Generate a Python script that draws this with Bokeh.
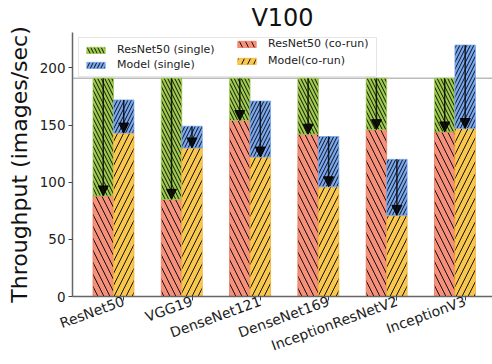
import numpy as np
from bokeh.plotting import figure
from bokeh.models import (ColumnDataSource, Arrow, NormalHead, Span, FixedTicker,
                          Legend, LegendItem, Range1d)
from bokeh.embed import file_html
from bokeh.resources import INLINE

# Throughput (images/sec) on a V100: ResNet50 co-located with each model
models = ["ResNet50", "VGG19", "DenseNet121", "DenseNet169", "InceptionResNetV2", "InceptionV3"]
resnet_single = [191, 191, 191, 191, 191, 191]
resnet_corun = [88, 85, 154, 142, 146, 144]
model_single = [172, 149, 171, 140, 120, 220]
model_corun = [143, 130, 122, 96, 71, 147]

FONT = "DejaVu Sans"
BAR_W = 0.3
GREEN, RED, BLUE, YELLOW = "#9fcb4f", "#f5907a", "#7aa8ef", "#f8c74f"

x = np.arange(len(models))
src = ColumnDataSource(dict(
    xl=x - BAR_W, xr=x.astype(float),
    rs=resnet_single, rc=resnet_corun, ms=model_single, mc=model_corun,
))

p = figure(width=492, height=364, output_backend="svg", toolbar_location=None,
           x_range=Range1d(-0.75, 5.40), y_range=Range1d(0, 231),
           min_border_left=72, min_border_right=0, min_border_bottom=66,
           min_border_top=0)
p.title.text = "V100"
p.title.align = "center"
p.title.text_font = FONT
p.title.text_font_size = "24px"
p.title.text_font_style = "normal"
p.title.text_color = "#111111"
p.title.standoff = 2
p.outline_line_color = None
p.xgrid.visible = False
p.ygrid.visible = False
p.background_fill_color = "white"
p.border_fill_color = "white"

# reference line at ResNet50's standalone throughput
p.add_layout(Span(location=resnet_single[0], dimension="width",
                  line_color="#bbbbbb", line_width=1.5, level="underlay"))

common = dict(width=BAR_W, hatch_color="black", hatch_weight=1, hatch_alpha=0.9)
r_rc = p.vbar(x="xl", bottom=0, top="rc", source=src, fill_color=RED,
              line_color="#ee7a60", line_width=0.8, hatch_pattern="\\", hatch_scale=12, **common)
r_rs = p.vbar(x="xl", bottom="rc", top="rs", source=src, fill_color=GREEN,
              line_color=GREEN, line_width=0.8, hatch_pattern="\\", hatch_scale=7, **common)
r_mc = p.vbar(x="xr", bottom=0, top="mc", source=src, fill_color=YELLOW,
              line_color="#f3b236", line_width=0.8, hatch_pattern="/", hatch_scale=12, **common)
r_ms = p.vbar(x="xr", bottom="mc", top="ms", source=src, fill_color=BLUE,
              line_color=BLUE, line_width=0.8, hatch_pattern="/", hatch_scale=7, **common)

# arrows from standalone throughput down to co-run throughput
for xs, y0, y1 in (("xl", "rs", "rc"), ("xr", "ms", "mc")):
    p.add_layout(Arrow(x_start=xs, y_start=y0, x_end=xs, y_end=y1, source=src,
                       line_color="black", line_width=1.5, line_alpha=0.8,
                       end=NormalHead(size=10, fill_color="black", line_color="black",
                                      fill_alpha=0.9, line_alpha=0.9)))


def make_legend(items, loc, label_width, framed, padding, spacing):
    lg = Legend(items=items, location=loc)
    lg.label_text_font = FONT
    lg.label_text_font_size = "11px"
    lg.label_text_color = "#222222"
    lg.glyph_width = 23
    lg.glyph_height = 8
    lg.label_height = 12
    lg.label_width = label_width
    lg.spacing = spacing
    lg.padding = padding
    lg.margin = 0
    lg.label_standoff = 10
    lg.border_line_color = "#cccccc" if framed else None
    lg.background_fill_alpha = 0.85 if framed else 0
    return lg


# two legend columns sharing one frame
p.add_layout(make_legend([
    LegendItem(label="ResNet50 (single)", renderers=[r_rs]),
    LegendItem(label="Model (single)", renderers=[r_ms]),
], (6, 219), 254, True, 5, 2))
p.add_layout(make_legend([
    LegendItem(label="ResNet50 (co-run)", renderers=[r_rc]),
    LegendItem(label="Model(co-run)", renderers=[r_mc]),
], (163, 229), 100, False, 1, 4))

p.xaxis.ticker = FixedTicker(ticks=list(range(len(models))))
p.xaxis.major_label_overrides = {i: m for i, m in enumerate(models)}
p.xaxis.major_label_orientation = np.deg2rad(20)
p.yaxis.ticker = FixedTicker(ticks=[0, 50, 100, 150, 200])
p.yaxis.axis_label = "Throughput (images/sec)"
p.yaxis.axis_label_text_font = FONT
p.yaxis.axis_label_text_font_size = "22px"
p.yaxis.axis_label_text_font_style = "normal"
p.yaxis.axis_label_text_color = "#111111"
for ax in (p.xaxis, p.yaxis):
    ax.axis_line_color = "#666666"
    ax.axis_line_width = 1.5
    ax.major_tick_line_color = "#444444"
    ax.major_tick_out = 4
    ax.major_tick_in = 0
    ax.minor_tick_out = 0
    ax.minor_tick_in = 0
    ax.major_label_text_font = FONT
    ax.major_label_text_font_size = "13.5px"
    ax.major_label_text_color = "#222222"
    ax.major_label_standoff = 3
p.xaxis.major_label_text_font_size = "14px"
p.xaxis.major_label_standoff = 0

open("out.html", "w").write(file_html(p, INLINE))
